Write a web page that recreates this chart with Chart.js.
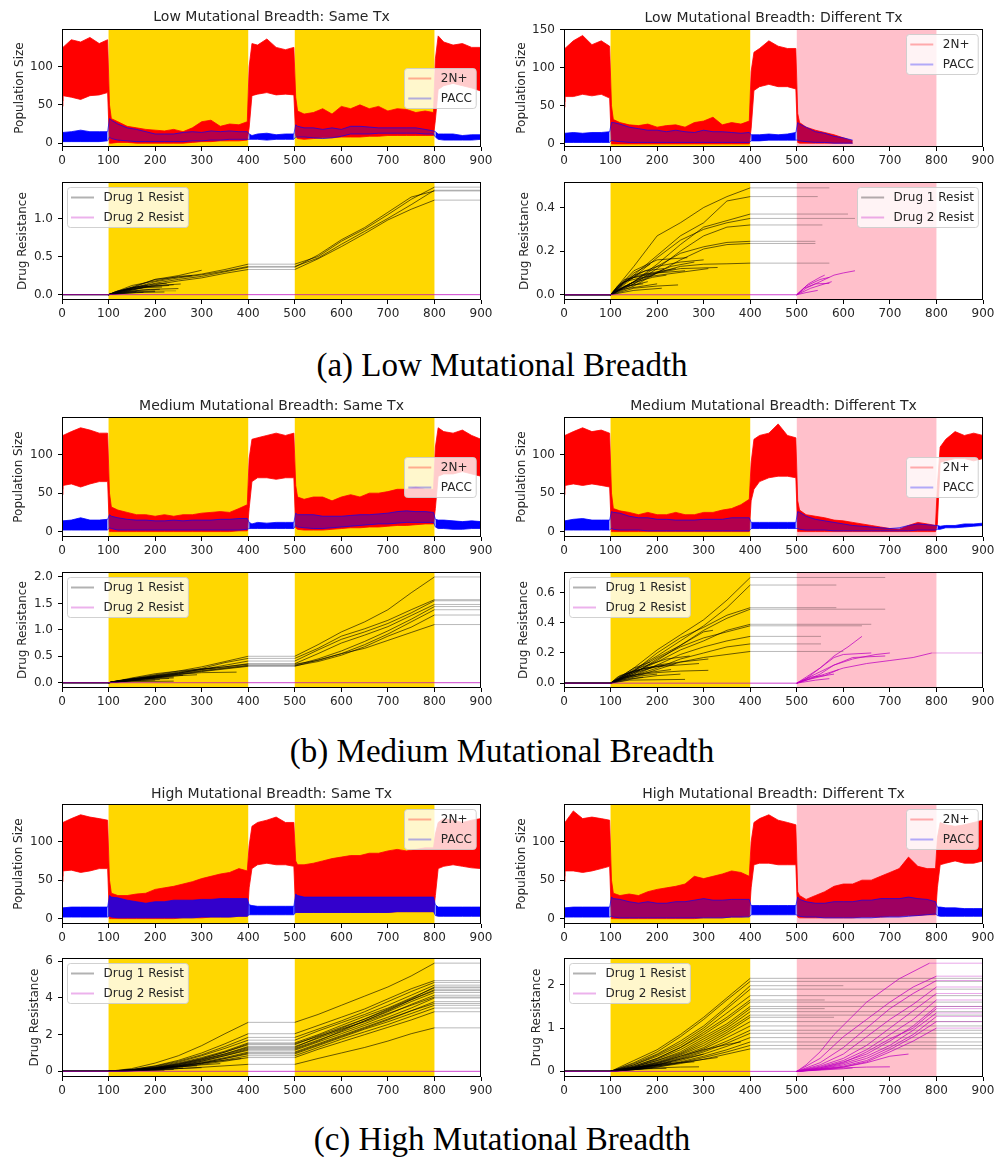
<!DOCTYPE html>
<html><head><meta charset="utf-8">
<script src="https://cdn.jsdelivr.net/npm/chart.js@4.4.1/dist/chart.umd.min.js"></script>
<style>
html,body{margin:0;padding:0;background:#fff;}
body{width:999px;height:1157px;position:relative;overflow:hidden;}
canvas{position:absolute;}
.cap{position:absolute;left:0;width:1004px;text-align:center;font-family:'Liberation Serif','Times New Roman',serif;font-size:33px;line-height:33px;color:#000;white-space:nowrap;}
</style></head><body>
<div class="cap" style="top:349px">(a) Low Mutational Breadth</div>
<div class="cap" style="top:735px">(b) Medium Mutational Breadth</div>
<div class="cap" style="top:1123px">(c) High Mutational Breadth</div>
<script>
// ---------------- DATA ----------------
const timeTicks = [0,100,200,300,400,500,600,700,800,900];
const popTicks = [0,50,100];
const popTicksDiffLow = [0,50,100,150];
const sameTx = {drug1:[[100,400],[500,800]], drug2:[]};
const diffTx = {drug1:[[100,400]], drug2:[[500,800]]};

// time grid for population envelopes
const popT = [0,2,20,40,60,80,98,
  102,106,120,140,160,180,200,220,240,260,280,300,320,340,360,380,398,
  402,408,420,440,460,480,498,
  502,506,520,540,560,580,600,620,640,660,680,700,720,740,760,780,798,
  802,808,820,840,860,880,900];

// Low breadth, same Tx
const lowSameRedHi = [55,125,135,132,138,130,135, 50,32,28,22,20,18,17,16,18,15,20,28,30,22,25,24,28, 100,130,128,136,125,122,125, 60,42,38,40,45,38,48,45,50,45,48,42,45,44,40,42,40, 110,140,132,128,130,125,125];
const lowSameRedLo = [48,62,60,57,62,63,66, 0,0,1,1,0,0,0,0,0,0,1,2,2,3,3,3,4, 20,62,64,66,63,64,63, 10,6,5,6,7,7,8,8,8,9,9,10,10,10,10,10,10, 30,70,75,78,75,72,68];
const lowSameBlueHi = [5,14,15,17,15,15,15, 32,30,25,20,18,15,12,12,12,14,15,14,16,15,16,15,15, 12,10,12,13,11,12,12, 24,22,20,20,18,20,18,22,22,21,20,20,20,20,20,18,16, 15,12,12,12,10,11,11];
const lowSameBlueLo = [3,2,2,2,2,2,3, 8,6,4,3,2,2,2,2,2,2,3,3,4,4,5,5,5, 5,5,5,4,5,5,5, 8,8,8,7,6,7,9,12,12,12,13,13,13,13,13,12,12, 8,5,4,4,4,4,5];
// Low breadth, different Tx
const lowDiffRedHi = [55,125,135,142,130,135,128, 50,32,28,25,24,26,22,24,25,22,28,30,35,25,28,26,30, 95,120,125,135,128,125,125, 40,28,22,18,15,12,8,4,null,null,null,null,null,null,null,null,null, null,null,null,null,null,null,null];
const lowDiffRedLo = [48,62,62,65,63,65,60, 0,0,0,0,0,0,0,0,0,0,0,0,0,0,0,0,0, 20,70,75,78,75,75,72, 2,1,1,1,1,1,1,1,null,null,null,null,null,null,null,null,null, null,null,null,null,null,null,null];
const lowDiffBlueHi = [5,14,15,14,15,15,16, 28,28,26,22,20,18,18,16,18,16,15,18,16,16,15,14,15, 12,12,12,13,12,13,15, 28,26,22,16,14,10,8,5,null,null,null,null,null,null,null,null,null, null,null,null,null,null,null,null];
const lowDiffBlueLo = [3,2,2,2,2,2,2, 5,4,3,2,2,2,2,2,2,2,2,2,2,2,2,2,2, 4,4,4,5,5,5,5, 5,4,3,2,2,1,1,1,null,null,null,null,null,null,null,null,null, null,null,null,null,null,null,null];
// Medium breadth, same Tx
const medSameRedHi = [55,125,130,135,132,128,128, 50,32,28,25,22,22,20,22,20,22,22,24,25,26,25,30,35, 95,120,122,125,128,125,128, 60,45,42,45,45,40,45,48,45,50,50,52,55,55,58,55,55, 110,135,130,128,132,125,120];
const medSameRedLo = [48,60,62,58,62,65,65, 0,0,0,0,0,0,0,0,0,0,0,0,0,0,0,1,1, 30,65,70,70,68,70,70, 5,3,2,2,2,3,4,5,5,6,6,7,8,8,9,10,10, 30,72,75,75,78,75,72];
const medSameBlueHi = [5,14,15,18,15,15,16, 22,20,18,16,15,15,14,14,15,14,15,15,15,16,16,17,17, 12,10,12,11,12,12,12, 24,22,22,22,20,20,20,21,22,22,23,24,26,27,26,26,25, 16,15,15,14,13,14,13];
const medSameBlueLo = [3,2,2,2,2,2,2, 5,4,2,2,2,2,2,2,2,2,2,2,2,2,2,2,3, 4,4,4,4,4,4,4, 8,6,5,4,4,5,6,7,8,9,10,10,11,12,12,12,12, 6,4,4,3,3,4,4];
// Medium breadth, different Tx
const medDiffRedHi = [55,125,130,135,130,132,128, 50,30,27,25,22,25,22,22,25,22,22,25,25,28,30,35,42, 90,120,125,128,140,125,122, 40,28,22,20,18,15,14,12,10,8,6,4,3,8,12,10,8, 60,110,120,130,125,128,125];
const medDiffRedLo = [48,60,62,60,62,60,58, 0,0,0,0,0,0,0,0,0,0,0,0,0,0,0,0,0, 40,55,65,70,72,72,70, 0,0,0,0,0,0,0,0,0,0,0,0,0,0,0,0,0, 10,90,92,95,95,92,95];
const medDiffBlueHi = [5,14,16,17,15,15,15, 26,25,24,20,18,18,16,16,15,15,15,16,16,16,18,18,18, 12,12,12,12,12,12,12, 26,25,20,16,14,12,10,8,7,6,5,4,5,8,10,9,8, 8,7,8,8,10,10,11];
const medDiffBlueLo = [3,2,2,2,2,2,2, 4,3,2,2,2,1,1,1,1,1,1,1,1,1,1,1,1, 4,4,4,4,4,4,4, 4,3,2,2,2,1,1,1,1,1,1,1,1,1,2,2,2, 3,3,5,5,6,7,8];
// High breadth, same Tx
const highSameRedHi = [55,125,130,135,132,130,128, 50,33,30,30,32,33,38,40,42,45,48,52,55,58,60,65,62, 95,120,125,128,132,125,125, 75,70,70,72,75,78,80,82,82,85,85,88,90,88,90,92,92, 110,125,130,128,125,128,130];
const highSameRedLo = [48,62,63,60,62,65,65, 0,0,0,0,0,0,0,0,0,1,1,1,2,2,2,3,3, 40,65,70,72,70,70,68, 8,8,8,8,8,8,8,8,8,8,8,8,9,9,9,9,9, 30,65,68,70,68,66,65];
const highSameBlueHi = [5,14,15,15,15,15,15, 30,28,27,24,22,20,22,22,24,24,24,25,25,26,26,26,26, 18,17,16,16,16,16,16, 32,30,28,28,28,28,28,28,28,28,28,28,28,28,28,28,28, 18,15,15,15,15,15,15];
const highSameBlueLo = [3,2,2,2,2,2,2, 3,2,1,1,1,1,1,1,1,1,1,2,2,2,2,3,3, 5,5,5,5,5,5,5, 8,8,8,8,8,8,8,8,8,8,8,8,9,9,9,9,9, 4,3,3,3,3,3,3];
// High breadth, different Tx
const highDiffRedHi = [55,125,140,130,132,130,128, 50,33,30,32,30,35,38,40,42,45,55,52,55,58,62,60,55, 100,125,130,135,128,125,122, 35,30,25,30,35,42,45,45,50,50,55,60,65,80,68,65,65, 105,125,122,120,122,125,128];
const highDiffRedLo = [48,62,62,60,62,65,68, 0,0,0,0,0,0,0,0,0,0,0,1,1,1,2,2,3, 40,70,72,72,70,70,70, 2,1,1,1,1,1,1,1,2,2,2,3,3,4,4,5,5, 40,70,72,75,72,72,75];
const highDiffBlueHi = [5,14,15,15,15,15,15, 28,26,25,22,20,22,20,20,22,22,24,26,24,24,25,25,25, 17,17,17,17,17,17,17, 28,25,22,20,20,22,22,22,24,24,26,26,26,28,26,25,22, 15,15,14,14,13,13,13];
const highDiffBlueLo = [3,2,2,2,2,2,2, 3,2,1,1,1,1,1,1,1,1,1,1,1,1,2,2,2, 5,5,5,5,5,5,5, 4,3,2,2,1,1,1,1,1,1,2,2,2,3,4,5,6, 4,3,3,3,3,3,3];

// Drug resistance trajectories [time, value]
const lowSameDrug1 = [
 [[0,0],[100,0],[150,0.09],[200,0.20],[250,0.23],[300,0.27],[350,0.33],[400,0.40],[500,0.40],[550,0.50],[600,0.70],[650,0.86],[700,1.05],[750,1.25],[800,1.41],[900,1.41]],
 [[0,0],[100,0],[150,0.08],[200,0.17],[250,0.22],[300,0.26],[350,0.31],[400,0.37],[500,0.37],[550,0.48],[600,0.66],[650,0.83],[700,1.00],[750,1.18],[800,1.37],[900,1.37]],
 [[0,0],[100,0],[150,0.07],[200,0.15],[250,0.20],[300,0.24],[350,0.30],[400,0.36],[500,0.36],[550,0.52],[600,0.72],[650,0.88],[700,1.08],[750,1.28],[800,1.36],[900,1.36]],
 [[0,0],[100,0],[150,0.06],[200,0.13],[250,0.18],[300,0.22],[350,0.28],[400,0.33],[500,0.33],[550,0.47],[600,0.63],[650,0.80],[700,0.98],[750,1.12],[800,1.24],[900,1.24]],
 [[100,0],[150,0.10],[200,0.20],[250,0.25],[300,0.32]],
 [[100,0],[150,0.12],[200,0.18],[250,0.24],[280,0.25]],
 [[100,0],[150,0.06],[200,0.12],[255,0.14]],
 [[100,0],[130,0.05],[180,0.10],[230,0.12]],
 [[100,0],[140,0.04],[190,0.07],[250,0.08]],
 [[100,0],[120,0.03],[170,0.06],[210,0.07]],
 [[100,0],[150,0.04],[200,0.05],[245,0.05]],
 [[100,0],[130,0.02],[160,0.04]],
 [[100,0],[140,0.08],[200,0.14],[225,0.15]],
 [[100,0],[125,0.05],[150,0.07]],
 [[100,0],[160,0.03],[220,0.035]],
 [[100,0],[115,0.04],[150,0.08],[190,0.11]],
 [[100,0],[135,0.06],[175,0.09],[215,0.10]],
 [[100,0],[110,0.02],[140,0.03],[200,0.04]],
 [[100,0],[150,0.09],[185,0.13]],
 [[100,0],[120,0.05],[160,0.10],[240,0.13]],
 [[100,0],[145,0.02],[175,0.03]]
];
const lowSameDrug2 = [[[0,0],[900,0]]];

const lowDiffDrug1 = [
 [[0,0],[100,0],[150,0.13],[200,0.27],[250,0.33],[300,0.40],[350,0.45],[400,0.49],[570,0.49]],
 [[0,0],[100,0],[150,0.09],[200,0.18],[250,0.27],[300,0.33],[350,0.43],[400,0.45],[545,0.45]],
 [[0,0],[100,0],[150,0.06],[200,0.14],[250,0.23],[300,0.31],[350,0.34],[400,0.37],[610,0.37]],
 [[0,0],[100,0],[150,0.08],[200,0.17],[250,0.25],[300,0.30],[350,0.33],[400,0.35],[625,0.35]],
 [[0,0],[100,0],[150,0.05],[200,0.12],[250,0.20],[300,0.27],[350,0.31],[400,0.32],[555,0.32]],
 [[0,0],[100,0],[150,0.06],[200,0.13],[250,0.19],[300,0.22],[350,0.24],[400,0.245],[540,0.245]],
 [[0,0],[100,0],[150,0.04],[200,0.10],[250,0.16],[300,0.21],[350,0.23],[400,0.235],[540,0.235]],
 [[0,0],[100,0],[150,0.05],[200,0.10],[250,0.13],[300,0.14],[350,0.142],[400,0.145],[570,0.145]],
 [[100,0],[150,0.09],[200,0.13],[250,0.15],[300,0.16]],
 [[100,0],[150,0.06],[200,0.10],[250,0.12],[330,0.125]],
 [[100,0],[150,0.03],[200,0.04],[245,0.045]],
 [[100,0],[130,0.07],[200,0.10],[260,0.11]],
 [[100,0],[150,0.11],[200,0.16],[265,0.17]],
 [[100,0],[120,0.03],[180,0.06]],
 [[100,0],[140,0.05],[190,0.08],[220,0.09]],
 [[100,0],[160,0.07],[230,0.13],[280,0.15]],
 [[100,0],[130,0.04],[170,0.05]],
 [[100,0],[150,0.02],[210,0.03]],
 [[100,0],[115,0.04],[150,0.08],[190,0.10]],
 [[100,0],[135,0.07],[175,0.11],[215,0.12]],
 [[100,0],[110,0.02],[140,0.03],[200,0.05]],
 [[100,0],[150,0.10],[185,0.14]],
 [[100,0],[120,0.05],[160,0.09],[240,0.12]],
 [[100,0],[130,0.06],[170,0.08],[310,0.12]]
];
const lowDiffDrug2 = [
 [[0,0],[500,0],[520,0.03],[550,0.06],[580,0.09],[600,0.10],[625,0.11]],
 [[500,0],[520,0.04],[550,0.07],[570,0.08]],
 [[500,0],[530,0.03],[560,0.05],[575,0.06]],
 [[500,0],[520,0.01],[545,0.02]],
 [[500,0],[515,0.03],[540,0.05],[570,0.052]],
 [[500,0],[525,0.05],[550,0.08],[560,0.09]]
];

const medSameDrug1 = [
 [[0,0],[100,0],[150,0.08],[200,0.15],[250,0.22],[300,0.30],[350,0.40],[400,0.50],[500,0.50],[550,0.72],[600,0.96],[650,1.15],[700,1.38],[750,1.70],[800,2.00],[900,2.00]],
 [[0,0],[100,0],[150,0.07],[200,0.14],[250,0.20],[300,0.27],[350,0.38],[400,0.46],[500,0.46],[550,0.65],[600,0.88],[650,1.02],[700,1.18],[750,1.38],[800,1.57],[900,1.57]],
 [[0,0],[100,0],[150,0.06],[200,0.13],[250,0.19],[300,0.25],[350,0.33],[400,0.41],[500,0.41],[550,0.62],[600,0.82],[650,0.96],[700,1.12],[750,1.32],[800,1.55],[900,1.55]],
 [[0,0],[100,0],[150,0.06],[200,0.12],[250,0.18],[300,0.26],[350,0.30],[400,0.36],[500,0.36],[550,0.55],[600,0.75],[650,0.90],[700,1.06],[750,1.27],[800,1.48],[900,1.48]],
 [[0,0],[100,0],[150,0.05],[200,0.11],[250,0.17],[300,0.23],[350,0.28],[400,0.33],[500,0.33],[550,0.45],[600,0.60],[650,0.78],[700,0.98],[750,1.20],[800,1.44],[900,1.44]],
 [[0,0],[100,0],[150,0.06],[200,0.13],[250,0.18],[300,0.25],[350,0.30],[400,0.35],[500,0.35],[550,0.42],[600,0.55],[650,0.72],[700,0.92],[750,1.15],[800,1.38],[900,1.38]],
 [[0,0],[100,0],[150,0.05],[200,0.10],[250,0.16],[300,0.22],[350,0.27],[400,0.32],[500,0.32],[550,0.40],[600,0.52],[650,0.68],[700,0.88],[750,1.05],[800,1.28],[900,1.28]],
 [[0,0],[100,0],[150,0.04],[200,0.09],[250,0.15],[300,0.21],[350,0.26],[400,0.31],[500,0.31],[550,0.43],[600,0.55],[650,0.65],[700,0.80],[750,0.95],[800,1.10],[900,1.10]],
 [[100,0],[150,0.07],[200,0.12],[250,0.16],[300,0.19],[375,0.20]],
 [[100,0],[150,0.09],[200,0.17],[250,0.22],[330,0.28]],
 [[100,0],[150,0.05],[200,0.10],[260,0.14]],
 [[100,0],[140,0.04],[190,0.08],[240,0.09]],
 [[100,0],[130,0.03],[180,0.06],[230,0.08]],
 [[100,0],[150,0.04],[210,0.06]],
 [[100,0],[160,0.08],[220,0.12],[290,0.15]],
 [[100,0],[120,0.02],[170,0.05]],
 [[100,0],[140,0.06],[200,0.09]],
 [[100,0],[150,0.02],[240,0.03]],
 [[100,0],[115,0.03],[150,0.06],[190,0.09]],
 [[100,0],[135,0.05],[175,0.09],[215,0.11]],
 [[100,0],[110,0.02],[140,0.03],[200,0.05]],
 [[100,0],[150,0.07],[185,0.10]],
 [[100,0],[120,0.04],[160,0.07],[240,0.11]]
];
const medSameDrug2 = [[[0,0],[900,0]]];

const medDiffDrug1 = [
 [[0,0],[100,0],[150,0.10],[200,0.22],[250,0.32],[300,0.42],[350,0.55],[400,0.70],[690,0.70]],
 [[0,0],[100,0],[150,0.09],[200,0.18],[250,0.28],[300,0.38],[350,0.50],[400,0.65],[585,0.65]],
 [[0,0],[100,0],[150,0.08],[200,0.20],[250,0.30],[300,0.37],[350,0.45],[400,0.50],[585,0.50]],
 [[0,0],[100,0],[150,0.07],[200,0.15],[250,0.25],[300,0.35],[350,0.43],[400,0.49],[690,0.49]],
 [[0,0],[100,0],[150,0.07],[200,0.14],[250,0.22],[300,0.28],[350,0.35],[400,0.39],[660,0.39]],
 [[0,0],[100,0],[150,0.06],[200,0.16],[250,0.24],[300,0.30],[350,0.34],[400,0.38],[640,0.38]],
 [[0,0],[100,0],[150,0.05],[200,0.12],[250,0.19],[300,0.24],[350,0.28],[400,0.31],[552,0.31]],
 [[0,0],[100,0],[150,0.05],[200,0.10],[250,0.16],[300,0.20],[350,0.24],[400,0.26],[552,0.26]],
 [[0,0],[100,0],[150,0.04],[200,0.09],[250,0.14],[300,0.17],[350,0.19],[400,0.21],[600,0.21]],
 [[100,0],[150,0.08],[200,0.17],[250,0.25],[300,0.34],[320,0.35]],
 [[100,0],[150,0.06],[200,0.12],[250,0.14],[310,0.16]],
 [[100,0],[140,0.05],[200,0.07],[250,0.08],[310,0.085]],
 [[100,0],[150,0.03],[200,0.05],[250,0.06]],
 [[100,0],[130,0.04],[180,0.07],[230,0.09]],
 [[100,0],[160,0.10],[220,0.16],[270,0.18]],
 [[100,0],[120,0.02],[170,0.04]],
 [[100,0],[150,0.07],[200,0.11],[290,0.13]],
 [[100,0],[140,0.02],[260,0.025]],
 [[100,0],[115,0.04],[150,0.08],[190,0.11]],
 [[100,0],[135,0.06],[175,0.10],[215,0.12]],
 [[100,0],[110,0.02],[140,0.04],[200,0.06]],
 [[100,0],[150,0.10],[185,0.14]],
 [[100,0],[120,0.05],[160,0.09],[240,0.13]]
];
const medDiffDrug2 = [
 [[0,0],[500,0],[520,0.03],[550,0.10],[580,0.18],[610,0.24],[640,0.31]],
 [[500,0],[520,0.04],[550,0.10],[580,0.17],[600,0.19],[660,0.20]],
 [[500,0],[520,0.02],[550,0.06],[580,0.12],[620,0.17],[690,0.18]],
 [[500,0],[530,0.03],[560,0.06],[600,0.10],[650,0.13],[700,0.15],[750,0.17],[790,0.20],[900,0.20]],
 [[500,0],[520,0.02],[560,0.05],[590,0.09]],
 [[500,0],[530,0.04],[560,0.05],[580,0.06]],
 [[500,0],[520,0.01],[540,0.02],[570,0.03]],
 [[500,0],[540,0.06],[580,0.12],[620,0.16],[670,0.19],[700,0.20]]
];

const highSameDrug1 = [
 [[0,0],[100,0],[150,0.15],[200,0.45],[250,0.85],[300,1.40],[350,2.05],[400,2.67],[500,2.67],[550,3.10],[600,3.60],[650,4.10],[700,4.60],[750,5.20],[800,5.90],[900,5.90]],
 [[0,0],[100,0],[150,0.03],[200,0.08],[250,0.15],[300,0.22],[350,0.30],[400,0.38],[500,0.38],[550,0.70],[600,1.00],[650,1.30],[700,1.65],[750,2.05],[800,2.37],[900,2.37]],
 [[0,0],[100,0],[150,0.10],[200,0.30],[250,0.60],[300,1.00],[350,1.50],[400,2.05],[500,2.05],[550,2.50],[600,2.95],[650,3.40],[700,3.95],[750,4.50],[800,4.95],[900,4.95]],
 [[0,0],[100,0],[150,0.10],[200,0.28],[250,0.55],[300,0.90],[350,1.35],[400,1.85],[500,1.85],[550,2.30],[600,2.75],[650,3.25],[700,3.80],[750,4.35],[800,4.85],[900,4.85]],
 [[0,0],[100,0],[150,0.08],[200,0.25],[250,0.50],[300,0.85],[350,1.25],[400,1.70],[500,1.70],[550,2.20],[600,2.65],[650,3.10],[700,3.60],[750,4.15],[800,4.70],[900,4.70]],
 [[0,0],[100,0],[150,0.08],[200,0.22],[250,0.45],[300,0.75],[350,1.10],[400,1.55],[500,1.55],[550,2.00],[600,2.50],[650,3.00],[700,3.45],[750,4.00],[800,4.55],[900,4.55]],
 [[0,0],[100,0],[150,0.07],[200,0.20],[250,0.42],[300,0.70],[350,1.05],[400,1.45],[500,1.45],[550,1.95],[600,2.40],[650,2.85],[700,3.35],[750,3.90],[800,4.45],[900,4.45]],
 [[0,0],[100,0],[150,0.07],[200,0.20],[250,0.40],[300,0.65],[350,0.95],[400,1.35],[500,1.35],[550,1.80],[600,2.25],[650,2.75],[700,3.25],[750,3.80],[800,4.30],[900,4.30]],
 [[0,0],[100,0],[150,0.06],[200,0.18],[250,0.35],[300,0.60],[350,0.90],[400,1.25],[500,1.25],[550,1.70],[600,2.15],[650,2.60],[700,3.10],[750,3.65],[800,4.15],[900,4.15]],
 [[0,0],[100,0],[150,0.06],[200,0.16],[250,0.32],[300,0.55],[350,0.85],[400,1.15],[500,1.15],[550,1.60],[600,2.05],[650,2.50],[700,2.95],[750,3.45],[800,4.00],[900,4.00]],
 [[0,0],[100,0],[150,0.05],[200,0.15],[250,0.30],[300,0.50],[350,0.75],[400,1.05],[500,1.05],[550,1.50],[600,1.95],[650,2.40],[700,2.85],[750,3.30],[800,3.80],[900,3.80]],
 [[0,0],[100,0],[150,0.05],[200,0.14],[250,0.28],[300,0.45],[350,0.70],[400,0.95],[500,0.95],[550,1.40],[600,1.85],[650,2.30],[700,2.70],[750,3.15],[800,3.60],[900,3.60]],
 [[0,0],[100,0],[150,0.05],[200,0.12],[250,0.25],[300,0.42],[350,0.62],[400,0.85],[500,0.85],[550,1.30],[600,1.75],[650,2.15],[700,2.55],[750,3.00],[800,3.45],[900,3.45]],
 [[0,0],[100,0],[150,0.04],[200,0.11],[250,0.22],[300,0.38],[350,0.55],[400,0.75],[500,0.75],[550,1.20],[600,1.60],[650,2.00],[700,2.40],[750,2.80],[800,3.25],[900,3.25]],
 [[0,0],[100,0],[150,0.05],[200,0.14],[250,0.30],[300,0.55],[350,0.85],[400,1.20],[500,1.20],[550,1.65],[600,2.20],[650,2.75],[700,3.30],[750,3.90],[800,4.40],[900,4.40]],
 [[0,0],[100,0],[150,0.06],[200,0.17],[250,0.36],[300,0.62],[350,0.95],[400,1.30],[500,1.30],[550,1.85],[600,2.35],[650,2.85],[700,3.40],[750,3.95],[800,4.60],[900,4.60]],
 [[0,0],[100,0],[150,0.04],[200,0.12],[250,0.26],[300,0.45],[350,0.70],[400,1.00],[500,1.00],[550,1.45],[600,1.90],[650,2.35],[700,2.80],[750,3.30],[800,3.70],[900,3.70]],
 [[0,0],[100,0],[150,0.07],[200,0.19],[250,0.38],[300,0.68],[350,1.05],[400,1.50],[500,1.50],[550,1.90],[600,2.30],[650,2.70],[700,3.15],[750,3.60],[800,4.05],[900,4.05]],
 [[100,0],[150,0.05],[200,0.15],[250,0.30],[300,0.45],[350,0.60],[385,0.70]],
 [[100,0],[150,0.04],[200,0.12],[250,0.25],[300,0.35],[340,0.42]],
 [[100,0],[150,0.06],[200,0.15],[250,0.25],[290,0.30]],
 [[100,0],[150,0.03],[200,0.08],[250,0.15],[300,0.20]],
 [[100,0],[140,0.03],[190,0.07],[240,0.10]],
 [[100,0],[130,0.02],[180,0.05],[220,0.06]],
 [[100,0],[150,0.05],[200,0.12],[260,0.18]],
 [[100,0],[120,0.04],[160,0.10],[210,0.16]],
 [[100,0],[140,0.06],[180,0.12],[230,0.20]],
 [[100,0],[115,0.02],[150,0.05],[190,0.08]]
];
const highSameDrug2 = [[[0,0],[900,0]]];

const highDiffDrug1 = [
 [[0,0],[100,0],[150,0.25],[200,0.50],[250,0.85],[300,1.25],[350,1.70],[400,2.15],[900,2.15]],
 [[0,0],[100,0],[150,0.20],[200,0.45],[250,0.80],[300,1.20],[350,1.65],[400,2.08],[900,2.08]],
 [[0,0],[100,0],[150,0.18],[200,0.40],[250,0.70],[300,1.05],[350,1.50],[400,1.98],[600,1.98]],
 [[0,0],[100,0],[150,0.15],[200,0.38],[250,0.65],[300,1.00],[350,1.45],[400,1.90],[900,1.90]],
 [[0,0],[100,0],[150,0.15],[200,0.35],[250,0.60],[300,0.95],[350,1.35],[400,1.75],[900,1.75]],
 [[0,0],[100,0],[150,0.12],[200,0.30],[250,0.55],[300,0.90],[350,1.25],[400,1.65],[560,1.65]],
 [[0,0],[100,0],[150,0.12],[200,0.30],[250,0.55],[300,0.85],[350,1.20],[400,1.60],[900,1.60]],
 [[0,0],[100,0],[150,0.10],[200,0.28],[250,0.50],[300,0.80],[350,1.10],[400,1.50],[900,1.50]],
 [[0,0],[100,0],[150,0.10],[200,0.25],[250,0.45],[300,0.75],[350,1.05],[400,1.45],[560,1.45]],
 [[0,0],[100,0],[150,0.10],[200,0.25],[250,0.42],[300,0.70],[350,1.00],[400,1.38],[900,1.38]],
 [[0,0],[100,0],[150,0.08],[200,0.22],[250,0.40],[300,0.65],[350,0.95],[400,1.30],[900,1.30]],
 [[0,0],[100,0],[150,0.08],[200,0.20],[250,0.38],[300,0.60],[350,0.90],[400,1.25],[580,1.25]],
 [[0,0],[100,0],[150,0.08],[200,0.20],[250,0.35],[300,0.55],[350,0.85],[400,1.15],[900,1.15]],
 [[0,0],[100,0],[150,0.07],[200,0.18],[250,0.32],[300,0.52],[350,0.78],[400,1.05],[900,1.05]],
 [[0,0],[100,0],[150,0.06],[200,0.16],[250,0.30],[300,0.48],[350,0.70],[400,0.95],[900,0.95]],
 [[0,0],[100,0],[150,0.06],[200,0.15],[250,0.28],[300,0.45],[350,0.65],[400,0.88],[900,0.88]],
 [[0,0],[100,0],[150,0.05],[200,0.14],[250,0.25],[300,0.40],[350,0.58],[400,0.78],[900,0.78]],
 [[0,0],[100,0],[150,0.05],[200,0.12],[250,0.22],[300,0.35],[350,0.50],[400,0.68],[900,0.68]],
 [[0,0],[100,0],[150,0.04],[200,0.10],[250,0.20],[300,0.32],[350,0.45],[400,0.60],[900,0.60]],
 [[0,0],[100,0],[150,0.04],[200,0.10],[250,0.18],[300,0.28],[350,0.40],[400,0.52],[900,0.52]],
 [[100,0],[150,0.06],[200,0.15],[250,0.28],[300,0.40]],
 [[100,0],[150,0.05],[200,0.12],[250,0.20],[280,0.22]],
 [[100,0],[150,0.04],[200,0.08],[250,0.10],[290,0.105]],
 [[100,0],[150,0.08],[200,0.18],[250,0.35],[300,0.50],[350,0.62],[380,0.68]],
 [[100,0],[130,0.03],[180,0.06],[220,0.07]],
 [[100,0],[150,0.06],[200,0.14],[260,0.22],[330,0.32]],
 [[100,0],[120,0.04],[160,0.10],[210,0.15]],
 [[100,0],[140,0.07],[180,0.13],[230,0.20]],
 [[100,0],[115,0.02],[150,0.05],[190,0.08]]
];
const highDiffDrug2 = [
 [[0,0],[500,0],[520,0.15],[550,0.45],[580,0.85],[650,1.60],[720,2.14],[785,2.50],[900,2.50]],
 [[500,0],[550,0.30],[600,0.80],[650,1.20],[700,1.60],[750,1.95],[800,2.20],[900,2.20]],
 [[500,0],[550,0.20],[600,0.55],[650,1.00],[700,1.45],[750,1.80],[800,2.10],[900,2.10]],
 [[500,0],[550,0.15],[600,0.40],[650,0.80],[700,1.20],[750,1.55],[800,1.95],[900,1.95]],
 [[500,0],[550,0.12],[600,0.30],[650,0.60],[700,1.00],[750,1.40],[800,1.80],[900,1.80]],
 [[500,0],[550,0.10],[600,0.25],[650,0.50],[700,0.85],[750,1.20],[800,1.65],[900,1.65]],
 [[500,0],[550,0.08],[600,0.22],[650,0.40],[700,0.70],[750,1.05],[800,1.50],[900,1.50]],
 [[500,0],[550,0.06],[600,0.18],[650,0.35],[700,0.60],[750,0.95],[800,1.35],[900,1.35]],
 [[500,0],[550,0.06],[600,0.15],[650,0.30],[700,0.55],[750,0.85],[800,1.27],[900,1.27]],
 [[500,0],[550,0.05],[600,0.12],[650,0.25],[700,0.50],[750,0.80],[800,1.15],[900,1.15]],
 [[500,0],[550,0.05],[600,0.10],[650,0.22],[700,0.45],[750,0.70],[800,1.00],[900,1.00]],
 [[500,0],[550,0.04],[600,0.10],[650,0.20],[700,0.35],[740,0.40]],
 [[500,0],[550,0.04],[600,0.08],[650,0.10],[700,0.105]],
 [[500,0],[550,0.03],[600,0.06],[620,0.08]],
 [[500,0],[550,0.08],[600,0.20],[650,0.45],[700,0.75],[750,1.00],[800,1.45],[900,1.45]]
];

// ---------------- RENDERING ----------------
const FONT = "'DejaVu Sans'";
const TXT = '#262626';
Chart.defaults.font.family = FONT;
Chart.defaults.color = TXT;
const GOLD = '#FFD700', PINK = '#FFC0CB';

const spanPlugin = {id:'spans', beforeDatasetsDraw(chart, args, opts){
  const ctx = chart.ctx, a = chart.chartArea, xs = chart.scales.x;
  ctx.save();
  (opts.spans || []).forEach(s => {
    const x0 = xs.getPixelForValue(s.from), x1 = xs.getPixelForValue(s.to);
    ctx.fillStyle = s.color; ctx.fillRect(x0, a.top, x1 - x0, a.bottom - a.top);
  });
  ctx.restore();
}};
const framePlugin = {id:'frame', afterDatasetsDraw(chart){
  const ctx = chart.ctx, a = chart.chartArea;
  ctx.save(); ctx.strokeStyle = '#000'; ctx.lineWidth = 1;
  ctx.strokeRect(Math.round(a.left)+0.5, Math.round(a.top)+0.5, Math.round(a.right-a.left)-1, Math.round(a.bottom-a.top)-1);
  ctx.restore();
}};
const legendPlugin = {id:'mplLegend', afterDraw(chart, args, o){
  if (!o || !o.items) return;
  const ctx = chart.ctx, a = chart.chartArea;
  ctx.save(); ctx.font = '12px ' + FONT;
  const pad = 4, handle = 23, gap = 9.5, pitch = 20, off = 5;
  const tw = Math.max(...o.items.map(it => ctx.measureText(it.text).width));
  const w = pad*2 + handle + gap + tw, h = pitch * o.items.length;
  const x = o.loc.includes('left') ? a.left + off : a.right - off - w;
  const y = o.loc.startsWith('upper') ? a.top + off : (a.top + a.bottom)/2 - h/2;
  ctx.beginPath();
  if (ctx.roundRect) ctx.roundRect(Math.round(x)+0.5, Math.round(y)+0.5, w, h, 3); else ctx.rect(Math.round(x)+0.5, Math.round(y)+0.5, w, h);
  ctx.fillStyle = 'rgba(255,255,255,0.8)'; ctx.fill();
  ctx.strokeStyle = 'rgba(204,204,204,0.9)'; ctx.lineWidth = 1; ctx.stroke();
  o.items.forEach((it, i) => {
    const cy = Math.round(y + pitch/2 + i*pitch) + 0.5;
    ctx.strokeStyle = it.color; ctx.lineWidth = 2;
    ctx.beginPath(); ctx.moveTo(x + pad, cy); ctx.lineTo(x + pad + handle, cy); ctx.stroke();
    ctx.fillStyle = TXT; ctx.textBaseline = 'middle'; ctx.textAlign = 'left';
    ctx.fillText(it.text, x + pad + handle + gap, cy + 0.5);
  });
  ctx.restore();
}};

function spansFor(p){
  return p.drug1.map(([a,b]) => ({from:a, to:b, color:GOLD})).concat(p.drug2.map(([a,b]) => ({from:a, to:b, color:PINK})));
}

function popDatasets(d, periods, txAlpha){
  const all = periods.drug1.concat(periods.drug2);
  const inTx = t => all.some(([a,b]) => t > a && t < b);
  const on = popT.map((t,i) => inTx(t) || (i > 0 && inTx(popT[i-1])) || (i < popT.length-1 && inTx(popT[i+1])));
  const off = popT.map(t => !inTx(t));
  const pts = (arr, mask) => popT.map((t,i) => ({x:t, y:(mask && !mask[i]) ? null : arr[i]}));
  const base = {pointRadius:0, borderWidth:0.8, tension:0, spanGaps:false};
  return [
    {...base, label:'2N+ low', data:pts(d.redLo), borderColor:'#ff0000', fill:false, order:3},
    {...base, label:'2N+', data:pts(d.redHi), borderColor:'#ff0000', backgroundColor:'#ff0000', fill:'-1', order:3},
    {...base, label:'PACC low', data:pts(d.blueLo, off), borderColor:'#0000ff', fill:false, order:2},
    {...base, label:'PACC', data:pts(d.blueHi, off), borderColor:'#0000ff', backgroundColor:'#0000ff', fill:'-1', order:2},
    {...base, label:'PACC tx low', data:pts(d.blueLo, on), borderColor:'rgba(0,0,255,0.85)', fill:false, order:1},
    {...base, label:'PACC tx', data:pts(d.blueHi, on), borderColor:'rgba(0,0,255,0.85)', backgroundColor:'rgba(0,0,255,' + txAlpha + ')', fill:'-1', order:1}
  ];
}

function drugDatasets(d1, d2){
  const mk = (line, strong, faint, order) => ({
    data: line.map(([x,y]) => ({x, y})), borderColor: strong, borderWidth: 1, pointRadius: 0, tension: 0, fill: false, order,
    segment: {borderColor: c => (c.p0.parsed.y === c.p1.parsed.y && c.p0.parsed.y !== 0) ? faint : strong}
  });
  return d1.map(l => mk(l, 'rgba(0,0,0,0.6)', 'rgba(0,0,0,0.28)', 2))
    .concat(d2.map(l => mk(l, 'rgba(191,0,191,0.75)', 'rgba(191,0,191,0.35)', 1)));
}

const popLegend = [{text:'2N+', color:'rgba(255,0,0,0.3)'}, {text:'PACC', color:'rgba(0,0,255,0.3)'}];
const drugLegend = [{text:'Drug 1 Resist', color:'rgba(0,0,0,0.3)'}, {text:'Drug 2 Resist', color:'rgba(191,0,191,0.3)'}];

function buildChart(s){
  const colLeft = s.col === 'L' ? 0 : 500, colW = s.col === 'L' ? 500 : 499;
  const L = s.col === 'L' ? 62 : 564, R = s.col === 'L' ? 481 : 983;
  const h = s.cb - s.ct;
  const cv = document.createElement('canvas');
  cv.width = colW; cv.height = h;
  cv.style.left = colLeft + 'px'; cv.style.top = s.ct + 'px';
  cv.style.width = colW + 'px'; cv.style.height = h + 'px';
  document.body.appendChild(cv);
  const lh = 14 * 1.2;
  let titleOpt = {display:false}, padTop = s.T - s.ct;
  if (s.title){
    const pt = s.tcy - s.ct - lh/2, pb = s.T - s.ct - pt - lh;
    titleOpt = {display:true, text:s.title, fullSize:false, font:{family:FONT, size:14, weight:'normal'}, color:TXT, padding:{top:pt, bottom:pb}};
    padTop = 0;
  }
  const tickFont = {family:FONT, size:12};
  new Chart(cv, {
    type:'line',
    data:{datasets:s.datasets},
    options:{
      responsive:false, animation:false, devicePixelRatio:1, events:[],
      layout:{padding:{top:padTop, right:colLeft + colW - R, bottom:0, left:0}, autoPadding:false},
      plugins:{legend:{display:false}, tooltip:{enabled:false}, title:titleOpt,
        spans:{spans:s.spans}, mplLegend:{items:s.legend, loc:s.loc}},
      scales:{
        x:{type:'linear', min:0, max:900,
          afterBuildTicks: sc => { sc.ticks = timeTicks.map(v => ({value:v})); },
          afterFit: sc => { sc.height = s.cb - s.B; },
          ticks:{font:tickFont, color:TXT, padding:3, autoSkip:false, maxRotation:0, callback: v => String(v)},
          grid:{display:true, drawOnChartArea:false, drawTicks:true, tickLength:4, tickColor:'#000', tickWidth:1},
          border:{display:false}},
        y:{type:'linear', min:s.yMin, max:s.yMax,
          afterBuildTicks: sc => { sc.ticks = s.yTicks.map(v => ({value:v})); },
          afterFit: sc => { sc.width = L - colLeft; },
          ticks:{font:tickFont, color:TXT, padding:5, autoSkip:false, callback: v => s.yLabels[s.yTicks.indexOf(v)]},
          grid:{display:true, drawOnChartArea:false, drawTicks:true, tickLength:4, tickColor:'#000', tickWidth:1},
          border:{display:false},
          title:{display:true, text:s.ylabel, font:{family:FONT, size:12}, color:TXT, padding:{top:s.ycx - colLeft - 7.2, bottom:0}}}
      }
    },
    plugins:[spanPlugin, framePlugin, legendPlugin]
  });
}

const pop = (hi, lo, bhi, blo) => ({redHi:hi, redLo:lo, blueHi:bhi, blueLo:blo});
const specs = [
  // (a)
  {col:'L', ct:0, cb:170, T:29, B:147, tcy:17.7, title:'Low Mutational Breadth: Same Tx', ylabel:'Population Size', ycx:20,
   yMin:-5, yMax:149, yTicks:popTicks, yLabels:['0','50','100'], spans:spansFor(sameTx), legend:popLegend, loc:'center right',
   datasets:popDatasets(pop(lowSameRedHi, lowSameRedLo, lowSameBlueHi, lowSameBlueLo), sameTx, 0.28)},
  {col:'R', ct:0, cb:170, T:29, B:147, tcy:18.3, title:'Low Mutational Breadth: Different Tx', ylabel:'Population Size', ycx:521.7,
   yMin:-4, yMax:150.5, yTicks:popTicksDiffLow, yLabels:['0','50','100','150'], spans:spansFor(diffTx), legend:popLegend, loc:'upper right',
   datasets:popDatasets(pop(lowDiffRedHi, lowDiffRedLo, lowDiffBlueHi, lowDiffBlueLo), diffTx, 0.28)},
  {col:'L', ct:170, cb:330, T:181, B:300, ylabel:'Drug Resistance', ycx:23.3,
   yMin:-0.07, yMax:1.475, yTicks:[0,0.5,1.0], yLabels:['0.0','0.5','1.0'], spans:spansFor(sameTx), legend:drugLegend, loc:'upper left',
   datasets:drugDatasets(lowSameDrug1, lowSameDrug2)},
  {col:'R', ct:170, cb:330, T:181, B:300, ylabel:'Drug Resistance', ycx:525,
   yMin:-0.024, yMax:0.516, yTicks:[0,0.2,0.4], yLabels:['0.0','0.2','0.4'], spans:spansFor(diffTx), legend:drugLegend, loc:'upper right',
   datasets:drugDatasets(lowDiffDrug1, lowDiffDrug2)},
  // (b)
  {col:'L', ct:390, cb:560, T:417, B:537, tcy:406, title:'Medium Mutational Breadth: Same Tx', ylabel:'Population Size', ycx:19.3,
   yMin:-7, yMax:149, yTicks:popTicks, yLabels:['0','50','100'], spans:spansFor(sameTx), legend:popLegend, loc:'center right',
   datasets:popDatasets(pop(medSameRedHi, medSameRedLo, medSameBlueHi, medSameBlueLo), sameTx, 0.4)},
  {col:'R', ct:390, cb:560, T:417, B:537, tcy:406, title:'Medium Mutational Breadth: Different Tx', ylabel:'Population Size', ycx:521.7,
   yMin:-7, yMax:149, yTicks:popTicks, yLabels:['0','50','100'], spans:spansFor(diffTx), legend:popLegend, loc:'center right',
   datasets:popDatasets(pop(medDiffRedHi, medDiffRedLo, medDiffBlueHi, medDiffBlueLo), diffTx, 0.3)},
  {col:'L', ct:560, cb:720, T:569, B:688, ylabel:'Drug Resistance', ycx:22.7,
   yMin:-0.1, yMax:2.09, yTicks:[0,0.5,1,1.5,2], yLabels:['0.0','0.5','1.0','1.5','2.0'], spans:spansFor(sameTx), legend:drugLegend, loc:'upper left',
   datasets:drugDatasets(medSameDrug1, medSameDrug2)},
  {col:'R', ct:560, cb:720, T:569, B:688, ylabel:'Drug Resistance', ycx:524,
   yMin:-0.032, yMax:0.735, yTicks:[0,0.2,0.4,0.6], yLabels:['0.0','0.2','0.4','0.6'], spans:spansFor(diffTx), legend:drugLegend, loc:'upper left',
   datasets:drugDatasets(medDiffDrug1, medDiffDrug2)},
  // (c)
  {col:'L', ct:780, cb:945, T:804, B:924, tcy:794, title:'High Mutational Breadth: Same Tx', ylabel:'Population Size', ycx:19.3,
   yMin:-7, yMax:149, yTicks:popTicks, yLabels:['0','50','100'], spans:spansFor(sameTx), legend:popLegend, loc:'upper right',
   datasets:popDatasets(pop(highSameRedHi, highSameRedLo, highSameBlueHi, highSameBlueLo), sameTx, 0.8)},
  {col:'R', ct:780, cb:945, T:804, B:924, tcy:794, title:'High Mutational Breadth: Different Tx', ylabel:'Population Size', ycx:521.7,
   yMin:-7, yMax:149, yTicks:popTicks, yLabels:['0','50','100'], spans:spansFor(diffTx), legend:popLegend, loc:'upper right',
   datasets:popDatasets(pop(highDiffRedHi, highDiffRedLo, highDiffBlueHi, highDiffBlueLo), diffTx, 0.38)},
  {col:'L', ct:945, cb:1105, T:958, B:1077, ylabel:'Drug Resistance', ycx:35,
   yMin:-0.31, yMax:6.18, yTicks:[0,2,4,6], yLabels:['0','2','4','6'], spans:spansFor(sameTx), legend:drugLegend, loc:'upper left',
   datasets:drugDatasets(highSameDrug1, highSameDrug2)},
  {col:'R', ct:945, cb:1105, T:958, B:1077, ylabel:'Drug Resistance', ycx:536.7,
   yMin:-0.13, yMax:2.62, yTicks:[0,1,2], yLabels:['0','1','2'], spans:spansFor(diffTx), legend:drugLegend, loc:'upper left',
   datasets:drugDatasets(highDiffDrug1, highDiffDrug2)}
];
specs.forEach(buildChart);
</script>
</body></html>
